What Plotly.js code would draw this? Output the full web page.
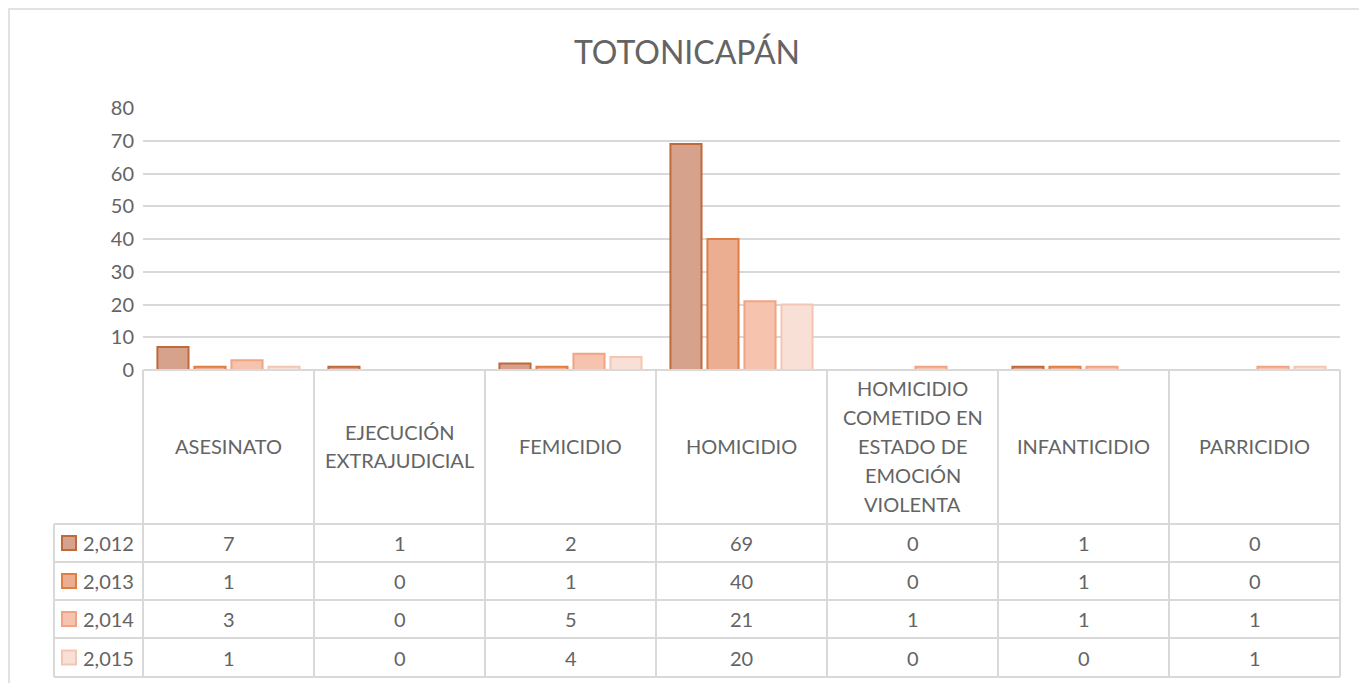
<!DOCTYPE html>
<html>
<head>
<meta charset="utf-8">
<script src="https://cdn.plot.ly/plotly-3.0.1.min.js"></script>
<style>html,body{margin:0;padding:0;background:#fff;}#chart{width:1359px;height:683px;}</style>
</head>
<body>
<div id="chart"></div>
<script>
// ---- data ----
const categories = ['ASESINATO', 'EJECUCIÓN EXTRAJUDICIAL', 'FEMICIDIO', 'HOMICIDIO',
  'HOMICIDIO COMETIDO EN ESTADO DE EMOCIÓN VIOLENTA', 'INFANTICIDIO', 'PARRICIDIO'];
const headerLines = [
  ['ASESINATO'],
  ['EJECUCIÓN', 'EXTRAJUDICIAL'],
  ['FEMICIDIO'],
  ['HOMICIDIO'],
  ['HOMICIDIO', 'COMETIDO EN', 'ESTADO DE', 'EMOCIÓN', 'VIOLENTA'],
  ['INFANTICIDIO'],
  ['PARRICIDIO']
];
const seriesNames = ['2,012', '2,013', '2,014', '2,015'];
const v2012 = [7, 1, 2, 69, 0, 1, 0];
const v2013 = [1, 0, 1, 40, 0, 1, 0];
const v2014 = [3, 0, 5, 21, 1, 1, 1];
const v2015 = [1, 0, 4, 20, 0, 0, 1];
const yTicks = [0, 10, 20, 30, 40, 50, 60, 70, 80];

// ---- styling ----
const seriesValues = [v2012, v2013, v2014, v2015];
const fills = ['#d7a28c', '#ebae90', '#f6c4ae', '#f9e0d6'];
const lines = ['#be6a3b', '#e07d42', '#efa484', '#f3c6b4'];
const txt = '#646464';
const grid = '#d9d9d9';
const FONT = 'Lato, "Open Sans", sans-serif';

const W = 1359, H = 683;
const mL = 143, mR = 19, mT = 108, mB = 313;
const plotH = H - mT - mB; // 262
const plotW = W - mL - mR; // 1197
const yp = px => (H - mB - px) / plotH;       // pixel y -> paper y
const xp = px => (px - mL) / plotW;           // pixel x -> paper x

const rowEdges = [524, 562, 600, 638, 677];
const headerTop = 370, headerCenter = 446, lineStep = 29;
const legendLeft = 54;

const traces = seriesValues.map((vals, i) => ({
  type: 'bar',
  name: seriesNames[i],
  x: categories,
  y: vals,
  marker: {color: fills[i], line: {color: lines[i], width: 2}},
  showlegend: false,
  hoverinfo: 'x+y+name'
}));

const shapes = [];
const annotations = [];
const n = categories.length;

// outer chart border
shapes.push({type: 'rect', xref: 'paper', yref: 'paper',
  x0: xp(9), x1: xp(1375), y0: yp(695), y1: yp(9),
  line: {color: grid, width: 1.5}, fillcolor: 'rgba(0,0,0,0)', layer: 'below'});

// table horizontal lines
shapes.push({type: 'line', xref: 'x domain', yref: 'paper', x0: 0, x1: 1,
  y0: yp(headerTop), y1: yp(headerTop), line: {color: grid, width: 2}});
rowEdges.forEach(r => shapes.push({type: 'line', xref: 'paper', yref: 'paper',
  x0: xp(legendLeft), x1: 1, y0: yp(r), y1: yp(r), line: {color: grid, width: 2}}));
// table vertical lines (category boundaries)
for (let k = 0; k <= n; k++) {
  shapes.push({type: 'line', xref: 'x domain', yref: 'paper', x0: k / n, x1: k / n,
    y0: yp(headerTop), y1: yp(rowEdges[rowEdges.length - 1]), line: {color: grid, width: 2}});
}
// legend column left line
shapes.push({type: 'line', xref: 'paper', yref: 'paper', x0: xp(legendLeft), x1: xp(legendLeft),
  y0: yp(rowEdges[0]), y1: yp(rowEdges[rowEdges.length - 1]), line: {color: grid, width: 2}});

// header labels
headerLines.forEach((ls, ci) => {
  ls.forEach((t, li) => {
    const off = (li - (ls.length - 1) / 2) * lineStep;
    annotations.push({xref: 'x', yref: 'paper', x: categories[ci], y: yp(headerCenter + off),
      text: t, showarrow: false, xanchor: 'center', yanchor: 'middle',
      font: {family: FONT, size: 20, color: txt}});
  });
});

// data rows
seriesValues.forEach((vals, si) => {
  const cy = (rowEdges[si] + rowEdges[si + 1]) / 2;
  // legend key square
  shapes.push({type: 'rect', xref: 'paper', yref: 'paper',
    x0: xp(62), x1: xp(76), y0: yp(cy + 7), y1: yp(cy - 7),
    fillcolor: fills[si], line: {color: lines[si], width: 2}});
  annotations.push({xref: 'paper', yref: 'paper', x: xp(81), y: yp(cy), text: seriesNames[si],
    showarrow: false, xanchor: 'left', yanchor: 'middle',
    font: {family: FONT, size: 20, color: txt}});
  vals.forEach((v, ci) => {
    annotations.push({xref: 'x', yref: 'paper', x: categories[ci], y: yp(cy), text: String(v),
      showarrow: false, xanchor: 'center', yanchor: 'middle',
      font: {family: FONT, size: 20, color: txt}});
  });
});

const layout = {
  width: W, height: H,
  margin: {l: mL, r: mR, t: mT, b: mB, pad: 0},
  paper_bgcolor: '#ffffff', plot_bgcolor: '#ffffff',
  title: {text: 'TOTONICAPÁN', xref: 'container', yref: 'container', x: 687 / W, y: 1 - 53 / H,
    xanchor: 'center', yanchor: 'middle', font: {family: FONT, size: 32, color: txt}},
  barmode: 'group', bargap: 0.134, bargroupgap: 0.16,
  xaxis: {type: 'category', showticklabels: false, showgrid: false, zeroline: false,
    showline: false, ticks: '', fixedrange: true},
  yaxis: {range: [0, 80], tickvals: yTicks, showgrid: true, gridcolor: grid, gridwidth: 1.5,
    zeroline: false, showline: false, ticks: '', ticklabelstandoff: 8,
    tickfont: {family: FONT, size: 20, color: txt}, fixedrange: true},
  shapes: shapes,
  annotations: annotations,
  showlegend: false,
  font: {family: FONT, color: txt}
};

Plotly.newPlot('chart', traces, layout, {displayModeBar: false, responsive: false});
</script>
</body>
</html>
